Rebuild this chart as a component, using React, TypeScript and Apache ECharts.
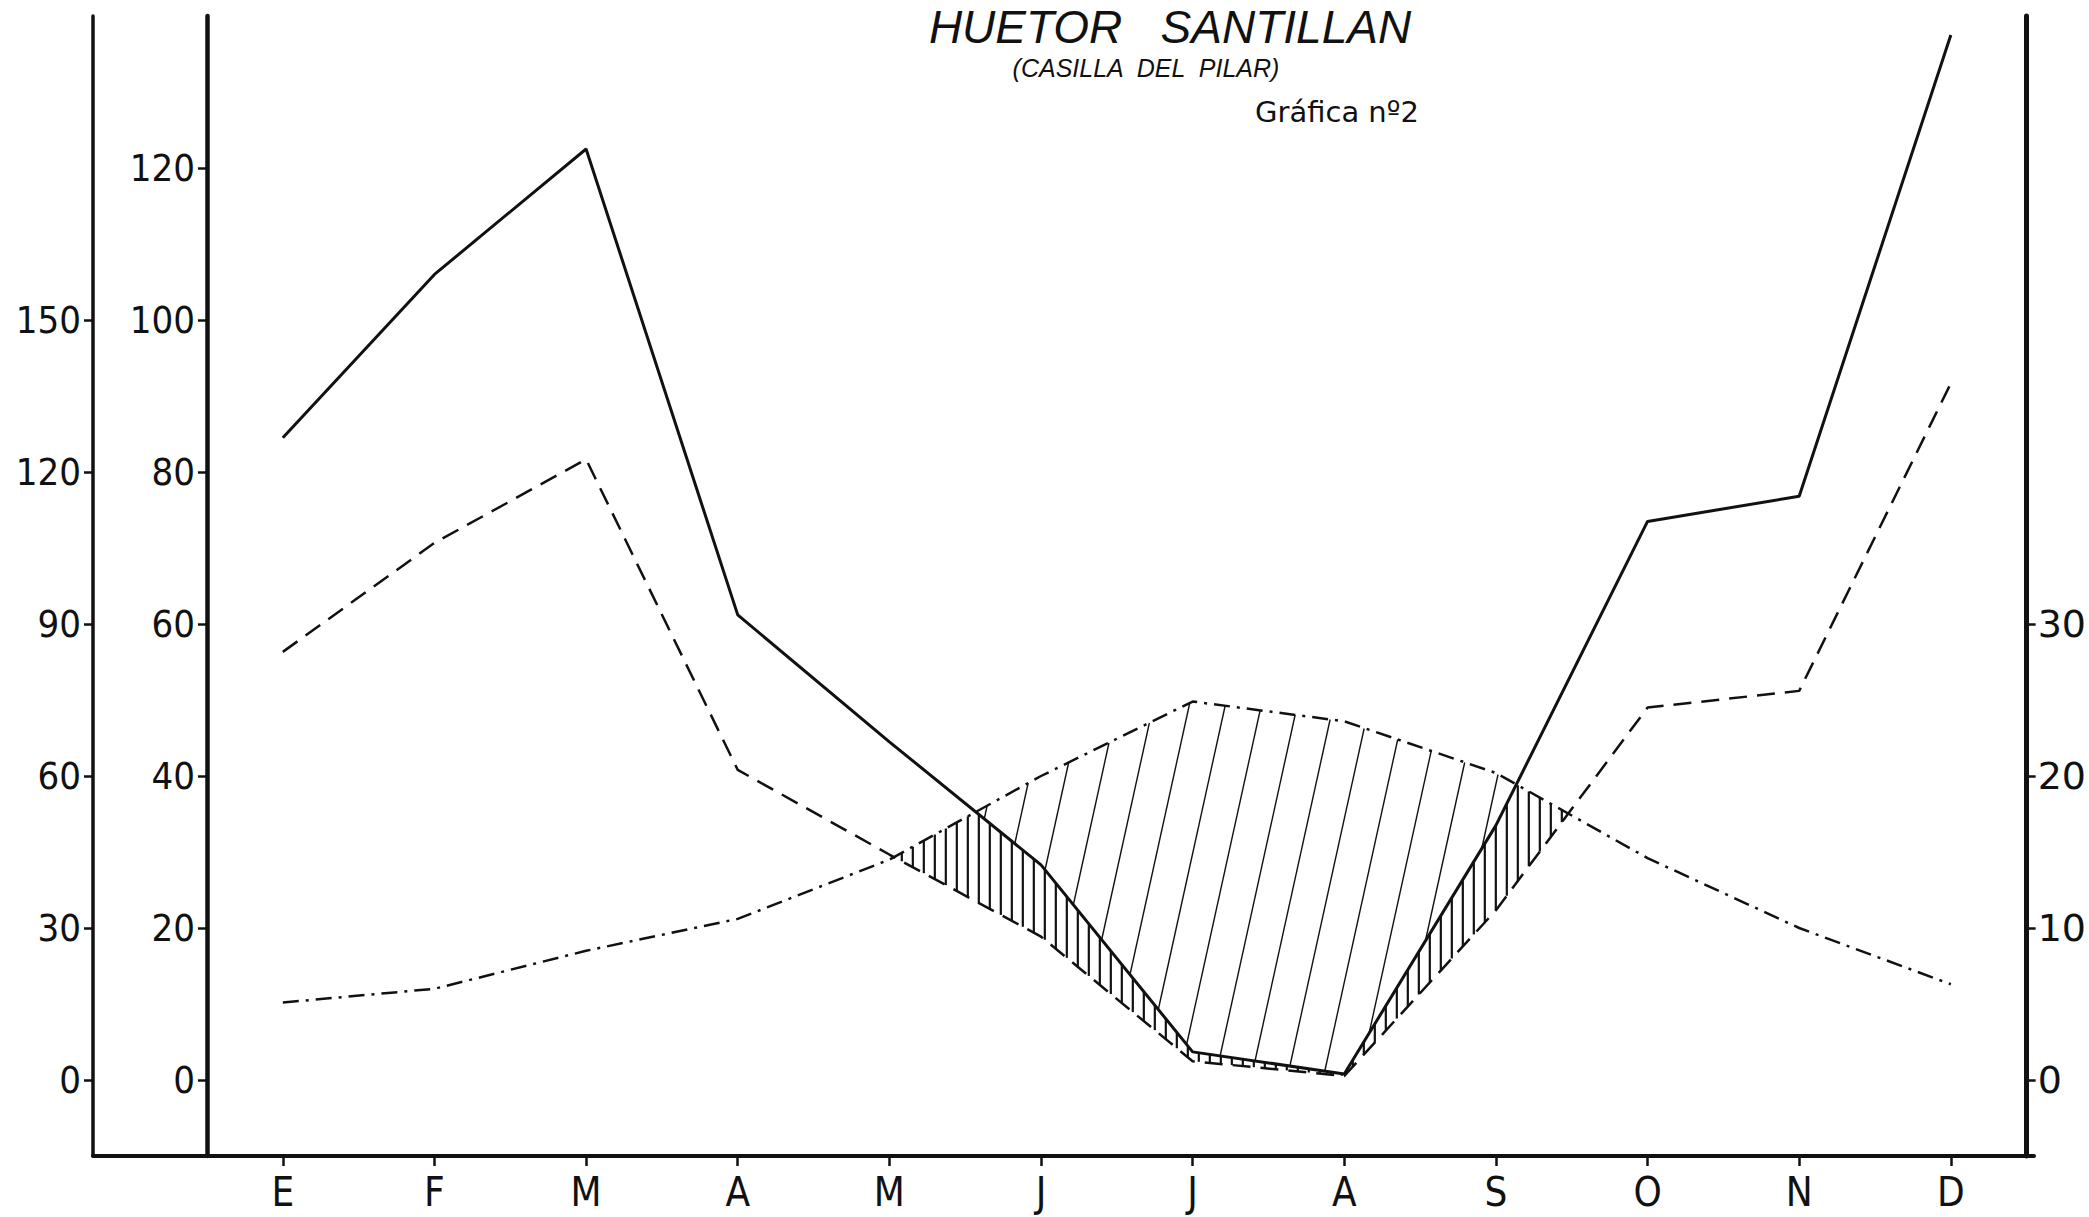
import React, { useEffect, useRef } from "react";
import * as echarts from "echarts";

// ---- data ----
const months = ["E", "F", "M", "A", "M", "J", "J", "A", "S", "O", "N", "D"];
// monthly precipitation (mm) – solid line on inner left axis, dashed on outer axis
const precipitation = [84.5, 106, 122.5, 61.2, 44.5, 28.3, 3.7, 0.8, 33.5, 73.5, 76.8, 137.5];
// monthly mean temperature (°C) – dot-dash line on right axis
const temperature = [5.1, 6.0, 8.5, 10.6, 14.5, 20.0, 24.9, 23.6, 20.2, 14.6, 10.0, 6.3];
const precipTicks = [0, 20, 40, 60, 80, 100, 120];
const precipOuterTicks = [0, 30, 60, 90, 120, 150];
const tempTicks = [0, 10, 20, 30];

const INK = "#111";
const LABEL_FONT = "'Liberation Sans Narrow', 'DejaVu Sans Condensed', 'DejaVu Sans', sans-serif";

function interp(arr: number[][], x: number): number {
  for (let i = 0; i < arr.length - 1; i++) {
    const [xa, ya] = arr[i];
    const [xb, yb] = arr[i + 1];
    if (x >= xa && x <= xb) return ya + ((yb - ya) * (x - xa)) / (xb - xa);
  }
  return NaN;
}

function renderHatch(_params: any, api: any) {
  const P = precipitation.map((v, i) => api.coord([i, v]));
  const D = precipitation.map((v, i) => api.coord([i, v / 1.5]));
  const T = temperature.map((t, i) => api.coord([i, 2 * t]));
  const x0 = P[0][0];
  const x1 = P[P.length - 1][0];
  const children: any[] = [];
  // vertical hatching: between dashed curve and min(precip, temp)
  for (let x = x0 + 3; x <= x1; x += 11) {
    const yd = interp(D, x);
    const yt = interp(T, x);
    const yp = interp(P, x);
    const top = Math.max(yt, yp);
    if (yd > top + 1) {
      children.push({
        type: "line",
        shape: { x1: x, y1: yd, x2: x, y2: top },
        style: { stroke: INK, lineWidth: 2.2 },
      });
    }
  }
  // diagonal hatching: between precip (below) and temperature (above)
  const k = 0.22;
  const yRef = 1080;
  const yMin = Math.min(...T.map((p: number[]) => p[1])) - 2;
  const yMax = Math.max(...P.map((p: number[]) => p[1])) + 2;
  for (let c = x0 - 400; c <= x1 + 400; c += 36) {
    let start: number[] | null = null;
    let last: number[] | null = null;
    const flush = () => {
      if (start && last && Math.abs(start[1] - last[1]) > 2) {
        children.push({
          type: "line",
          shape: { x1: start[0], y1: start[1], x2: last[0], y2: last[1] },
          style: { stroke: INK, lineWidth: 1.4 },
        });
      }
      start = null;
      last = null;
    };
    for (let y = yMin; y <= yMax; y += 0.5) {
      const x = c + (yRef - y) * k;
      let inside = false;
      if (x >= x0 && x <= x1) {
        const yt = interp(T, x);
        const yp = interp(P, x);
        inside = y >= yt && y <= yp;
      }
      if (inside) {
        if (!start) start = [x, y];
        last = [x, y];
      } else if (start) {
        flush();
      }
    }
    flush();
  }
  return { type: "group", children };
}

export default function App() {
  const ref = useRef<HTMLDivElement>(null);
  useEffect(() => {
    if (!ref.current) return;
    const chart = echarts.init(ref.current, undefined, { renderer: "svg" });
    const leftLabel = { color: INK, fontSize: 38, fontFamily: LABEL_FONT, margin: 12 };
    chart.setOption({
      animation: false,
      backgroundColor: "#fff",
      grid: [
        { left: 207, right: 55, top: 16, bottom: 61 },
        { left: 93, right: 55, top: 16, bottom: 61 },
      ],
      xAxis: [
        {
          type: "category",
          gridIndex: 0,
          data: months,
          boundaryGap: true,
          axisLine: { show: true, onZero: false, lineStyle: { color: INK, width: 4 } },
          axisTick: { show: true, alignWithLabel: true, length: 10, lineStyle: { color: INK, width: 2.5 } },
          axisLabel: { color: INK, fontSize: 40, fontFamily: LABEL_FONT, margin: 16 },
          splitLine: { show: false },
        },
        {
          type: "value",
          gridIndex: 1,
          axisLine: { show: true, onZero: false, lineStyle: { color: INK, width: 4 } },
          axisTick: { show: false },
          axisLabel: { show: false },
          splitLine: { show: false },
        },
      ],
      yAxis: [
        {
          type: "value",
          gridIndex: 0,
          position: "left",
          min: -10,
          max: 140,
          axisLine: { show: true, onZero: false, lineStyle: { color: INK, width: 4.5 } },
          axisTick: { show: true, length: 9, customValues: precipTicks, lineStyle: { color: INK, width: 2.5 } },
          axisLabel: { ...leftLabel, customValues: precipTicks },
          splitLine: { show: false },
        },
        {
          type: "value",
          gridIndex: 0,
          position: "right",
          min: -5,
          max: 70,
          axisLine: { show: true, onZero: false, lineStyle: { color: INK, width: 5 } },
          axisTick: { show: true, length: 9, customValues: tempTicks, lineStyle: { color: INK, width: 2.5 } },
          axisLabel: { color: INK, fontSize: 38, fontFamily: "'DejaVu Sans', sans-serif", margin: 11, customValues: tempTicks },
          splitLine: { show: false },
        },
        {
          type: "value",
          gridIndex: 0,
          position: "left",
          offset: 114,
          min: -15,
          max: 210,
          axisLine: { show: true, onZero: false, lineStyle: { color: INK, width: 3.5 } },
          axisTick: { show: true, length: 9, customValues: precipOuterTicks, lineStyle: { color: INK, width: 2.5 } },
          axisLabel: { ...leftLabel, customValues: precipOuterTicks },
          splitLine: { show: false },
        },
        {
          type: "value",
          gridIndex: 1,
          show: false,
        },
      ],
      series: [
        {
          type: "custom",
          xAxisIndex: 0,
          yAxisIndex: 0,
          data: [[0, 0]],
          renderItem: renderHatch,
          silent: true,
          z: 1,
        },
        {
          name: "Precipitación",
          type: "line",
          xAxisIndex: 0,
          yAxisIndex: 0,
          data: precipitation,
          symbol: "none",
          lineStyle: { color: INK, width: 3, type: "solid" },
          z: 3,
        },
        {
          name: "Precipitación (escala 3T)",
          type: "line",
          xAxisIndex: 0,
          yAxisIndex: 2,
          data: precipitation,
          symbol: "none",
          lineStyle: { color: INK, width: 2.5, type: [18, 10] },
          z: 3,
        },
        {
          name: "Temperatura",
          type: "line",
          xAxisIndex: 0,
          yAxisIndex: 1,
          data: temperature,
          symbol: "none",
          lineStyle: { color: INK, width: 2.5, type: [16, 7, 3, 7] },
          z: 3,
        },
      ],
      graphic: [
        {
          type: "text",
          x: 1170,
          y: 27,
          style: {
            text: "HUETOR   SANTILLAN",
            font: "italic 46px 'Liberation Sans', 'DejaVu Sans', sans-serif",
            fill: INK,
            textAlign: "center",
            textVerticalAlign: "middle",
            align: "center",
            verticalAlign: "middle",
          },
        },
        {
          type: "text",
          x: 1146,
          y: 68,
          style: {
            text: "(CASILLA  DEL  PILAR)",
            font: "italic 25px 'Liberation Sans', 'DejaVu Sans', sans-serif",
            fill: INK,
            textAlign: "center",
            textVerticalAlign: "middle",
            align: "center",
            verticalAlign: "middle",
          },
        },
        {
          type: "text",
          x: 1255,
          y: 112,
          style: {
            text: "Gráfica nº2",
            font: "29px 'DejaVu Sans', sans-serif",
            fill: INK,
            textAlign: "left",
            textVerticalAlign: "middle",
            align: "left",
            verticalAlign: "middle",
          },
        },
      ],
    });
    return () => chart.dispose();
  }, []);
  return (
    <div
      ref={ref}
      style={{ position: "fixed", left: 0, top: 0, width: 2089, height: 1217, background: "#fff" }}
    />
  );
}
